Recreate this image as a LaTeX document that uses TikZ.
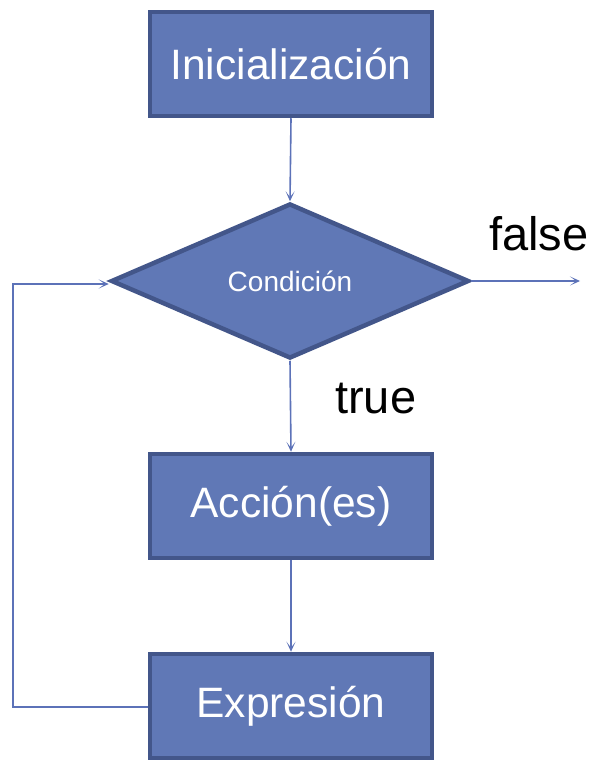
\documentclass[tikz,border=0pt]{standalone}
\usepackage{fontspec}
\setmainfont{Liberation Sans}
\usetikzlibrary{shapes.geometric,arrows.meta}
\definecolor{boxfill}{HTML}{6078B6}
\definecolor{boxedge}{HTML}{43568A}
\definecolor{linecol}{HTML}{5C72B8}
\begin{document}
\begin{tikzpicture}[x=1pt,y=-1pt,
  procbox/.style={draw=boxedge,fill=boxfill,line width=4.5pt,minimum width=282pt,minimum height=104pt,inner sep=0pt,text=white,font=\fontsize{42.5}{46}\selectfont},
  decbox/.style={draw=boxedge,fill=boxfill,line width=4.5pt,diamond,inner sep=0pt,text=white,font=\fontsize{28}{32}\selectfont},
  conn/.style={draw=linecol,line width=1.6pt,-{Stealth[length=10pt,width=9pt,inset=6pt]}},
  lbl/.style={font=\fontsize{47}{50}\selectfont,text=black,inner sep=0pt}]
\useasboundingbox (0,0) rectangle (593,762);
\node[procbox] (ini) at (291,64) {Inicialización};
\node[decbox,shape aspect=2.29,minimum width=358pt,minimum height=155pt] (cond) at (290,281) {Condición};
\node[procbox] (acc) at (291,506) {Acción(es)};
\node[procbox] (exp) at (291,706) {Expresión};
\coordinate (out) at (580,281);
\coordinate (lb) at (13,707);
\coordinate (lt) at (13,284);
\draw[conn] (ini.south) -- (cond.north);
\draw[conn] (cond.south) -- (acc.north);
\draw[conn] (acc.south) -- (exp.north);
\draw[conn] (cond.east) -- (out);
\draw[conn] (exp.west |- lb) -- (lb) -- (lt) -- (cond.west |- lt);
\node[lbl,anchor=base west] (fl) at (489,250) {false};
\node[lbl,anchor=base west] (tl) at (335,413) {true};
\end{tikzpicture}
\end{document}
